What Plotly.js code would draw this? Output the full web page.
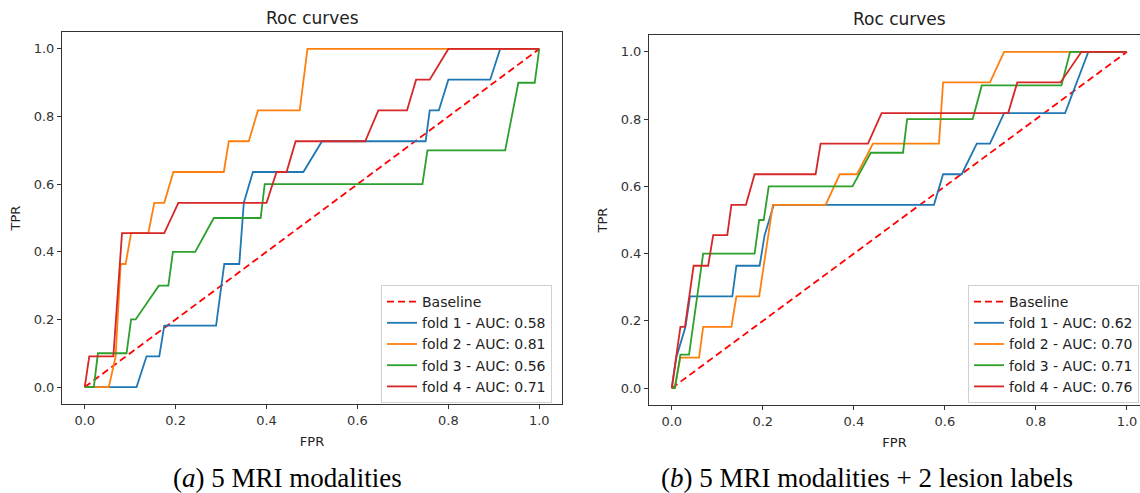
<!DOCTYPE html>
<html>
<head>
<meta charset="utf-8">
<script src="https://cdn.plot.ly/plotly-3.0.1.min.js"></script>
<style>html,body{margin:0;padding:0;background:#fff;}#chart{width:1140px;height:493px;}</style>
</head>
<body>
<div id="chart"></div>
<script>
// ----- data: panel (a) 5 MRI modalities -----
const baselineX = [0, 1];
const baselineY = [0, 1];

const aFold1X = [0,0.114,0.136,0.164,0.175,0.289,0.307,0.34,0.35,0.37,0.481,0.522,0.75,0.759,0.779,0.8,0.892,0.914,1];
const aFold1Y = [0,0,0.091,0.091,0.182,0.182,0.364,0.364,0.545,0.636,0.636,0.727,0.727,0.818,0.818,0.909,0.909,1,1];
const aFold2X = [0,0.053,0.068,0.079,0.09,0.102,0.14,0.153,0.175,0.195,0.306,0.317,0.361,0.381,0.473,0.49,1];
const aFold2Y = [0,0,0.091,0.364,0.364,0.455,0.455,0.545,0.545,0.636,0.636,0.727,0.727,0.818,0.818,1,1];
const aFold3X = [0,0.02,0.029,0.092,0.102,0.112,0.163,0.184,0.194,0.243,0.284,0.387,0.396,0.743,0.754,0.925,0.954,0.99,1];
const aFold3Y = [0,0,0.1,0.1,0.2,0.2,0.3,0.3,0.4,0.4,0.5,0.5,0.6,0.6,0.7,0.7,0.9,0.9,1];
const aFold4X = [0,0.01,0.063,0.082,0.175,0.206,0.4,0.422,0.444,0.464,0.617,0.646,0.709,0.729,0.759,0.8,1];
const aFold4Y = [0,0.091,0.091,0.455,0.455,0.545,0.545,0.636,0.636,0.727,0.727,0.818,0.818,0.909,0.909,1,1];
const aLabels = ["fold 1 - AUC: 0.58","fold 2 - AUC: 0.81","fold 3 - AUC: 0.56","fold 4 - AUC: 0.71"];

// ----- data: panel (b) 5 MRI modalities + 2 lesion labels -----
const bFold1X = [0,0.01,0.03,0.04,0.133,0.142,0.193,0.204,0.224,0.576,0.596,0.637,0.67,0.699,0.73,0.864,0.915,1];
const bFold1Y = [0,0.091,0.182,0.273,0.273,0.364,0.364,0.455,0.545,0.545,0.636,0.636,0.727,0.727,0.818,0.818,1,1];
const bFold2X = [0,0.006,0.019,0.06,0.069,0.131,0.142,0.192,0.222,0.338,0.369,0.407,0.442,0.587,0.596,0.699,0.73,1];
const bFold2Y = [0,0,0.091,0.091,0.182,0.182,0.273,0.273,0.545,0.545,0.636,0.636,0.727,0.727,0.909,0.909,1,1];
const bFold3X = [0,0.007,0.019,0.038,0.069,0.182,0.192,0.202,0.213,0.397,0.437,0.508,0.517,0.661,0.681,0.856,0.875,1];
const bFold3Y = [0,0,0.1,0.1,0.4,0.4,0.5,0.5,0.6,0.6,0.7,0.7,0.8,0.8,0.9,0.9,1,1];
const bFold4X = [0,0.019,0.029,0.048,0.08,0.091,0.122,0.131,0.163,0.182,0.316,0.327,0.431,0.461,0.739,0.759,0.854,0.9,1];
const bFold4Y = [0,0.182,0.182,0.364,0.364,0.455,0.455,0.545,0.545,0.636,0.636,0.727,0.727,0.818,0.818,0.909,0.909,1,1];
const bLabels = ["fold 1 - AUC: 0.62","fold 2 - AUC: 0.70","fold 3 - AUC: 0.71","fold 4 - AUC: 0.76"];

const tickVals = [0, 0.2, 0.4, 0.6, 0.8, 1.0];
const tickText = ["0.0","0.2","0.4","0.6","0.8","1.0"];
const colors = ["#1f77b4","#ff7f0e","#2ca02c","#d62728"];

const FONT = "DejaVu Sans, sans-serif";
const LW = 1.8;

function foldTraces(xs, ys, labels, xa, ya, leg) {
  const out = [{
    x: baselineX, y: baselineY, type: "scatter", mode: "lines", name: "Baseline",
    line: {color: "#ff0000", width: LW, dash: "7px,4px"},
    xaxis: xa, yaxis: ya, legend: leg, hoverinfo: "skip"
  }];
  for (let i = 0; i < xs.length; i++) {
    out.push({
      x: xs[i], y: ys[i], type: "scatter", mode: "lines", name: labels[i],
      line: {color: colors[i], width: LW},
      xaxis: xa, yaxis: ya, legend: leg
    });
  }
  return out;
}

const data = [].concat(
  foldTraces([aFold1X,aFold2X,aFold3X,aFold4X],[aFold1Y,aFold2Y,aFold3Y,aFold4Y],aLabels,"x","y","legend"),
  foldTraces([bFold1X,bFold2X,bFold3X,bFold4X],[bFold1Y,bFold2Y,bFold3Y,bFold4Y],bLabels,"x2","y2","legend2")
);

const W = 1140, H = 493;
function axisCommon() {
  return {
    showline: true, linecolor: "#333", linewidth: 1,
    ticks: "outside", ticklen: 4, tickwidth: 1, tickcolor: "#333",
    tickvals: tickVals, ticktext: tickText,
    tickfont: {family: FONT, size: 13, color: "#333"},
    showgrid: false, zeroline: false, fixedrange: true
  };
}
const legendCommon = {
  bgcolor: "rgba(255,255,255,0.85)", bordercolor: "#d0d0d0", borderwidth: 1,
  font: {family: FONT, size: 14, color: "#222"},
  xanchor: "left", yanchor: "top", tracegroupgap: 0
};

const layout = {
  width: W, height: H,
  margin: {l: 0, r: 0, t: 0, b: 0},
  paper_bgcolor: "#fff", plot_bgcolor: "#fff",
  showlegend: true,
  xaxis: Object.assign(axisCommon(), {domain: [62/W, 562/W], range: [-0.05, 1.05], mirror: true, anchor: "y",
    title: {text: "FPR", font: {family: FONT, size: 13, color: "#222"}, standoff: 10}}),
  yaxis: Object.assign(axisCommon(), {domain: [(H-404)/H, (H-32)/H], range: [-0.05, 1.05], mirror: true, anchor: "x",
    title: {text: "TPR", font: {family: FONT, size: 13, color: "#222"}, standoff: 10}}),
  xaxis2: Object.assign(axisCommon(), {domain: [649/W, 1], range: [-0.05, (W-672)/455], mirror: true, anchor: "y2",
    title: {text: "FPR", font: {family: FONT, size: 13, color: "#222"}, standoff: 10}}),
  yaxis2: Object.assign(axisCommon(), {domain: [(H-405)/H, (H-35)/H], range: [-0.05, 1.05], mirror: false, anchor: "x2",
    title: {text: "TPR", font: {family: FONT, size: 13, color: "#222"}, standoff: 10}}),
  legend: Object.assign({}, legendCommon, {x: 381/W, y: (H-285)/H}),
  legend2: Object.assign({}, legendCommon, {x: 968/W, y: (H-285)/H}),
  annotations: [
    {text: "Roc curves", x: 312/W, y: (H-18)/H, xref: "paper", yref: "paper", showarrow: false,
     xanchor: "center", yanchor: "middle", font: {family: FONT, size: 17, color: "#222"}},
    {text: "Roc curves", x: 899/W, y: (H-19)/H, xref: "paper", yref: "paper", showarrow: false,
     xanchor: "center", yanchor: "middle", font: {family: FONT, size: 17, color: "#222"}},
    {text: "(<i>a</i>) 5 MRI modalities", x: 287/W, y: (H-478)/H, xref: "paper", yref: "paper", showarrow: false,
     xanchor: "center", yanchor: "middle", font: {family: "Liberation Serif, Times New Roman, serif", size: 27, color: "#000"}},
    {text: "(<i>b</i>) 5 MRI modalities + 2 lesion labels", x: 867/W, y: (H-478)/H, xref: "paper", yref: "paper", showarrow: false,
     xanchor: "center", yanchor: "middle", font: {family: "Liberation Serif, Times New Roman, serif", size: 27, color: "#000"}}
  ]
};

Plotly.newPlot("chart", data, layout, {staticPlot: true, displayModeBar: false});
</script>
</body>
</html>
